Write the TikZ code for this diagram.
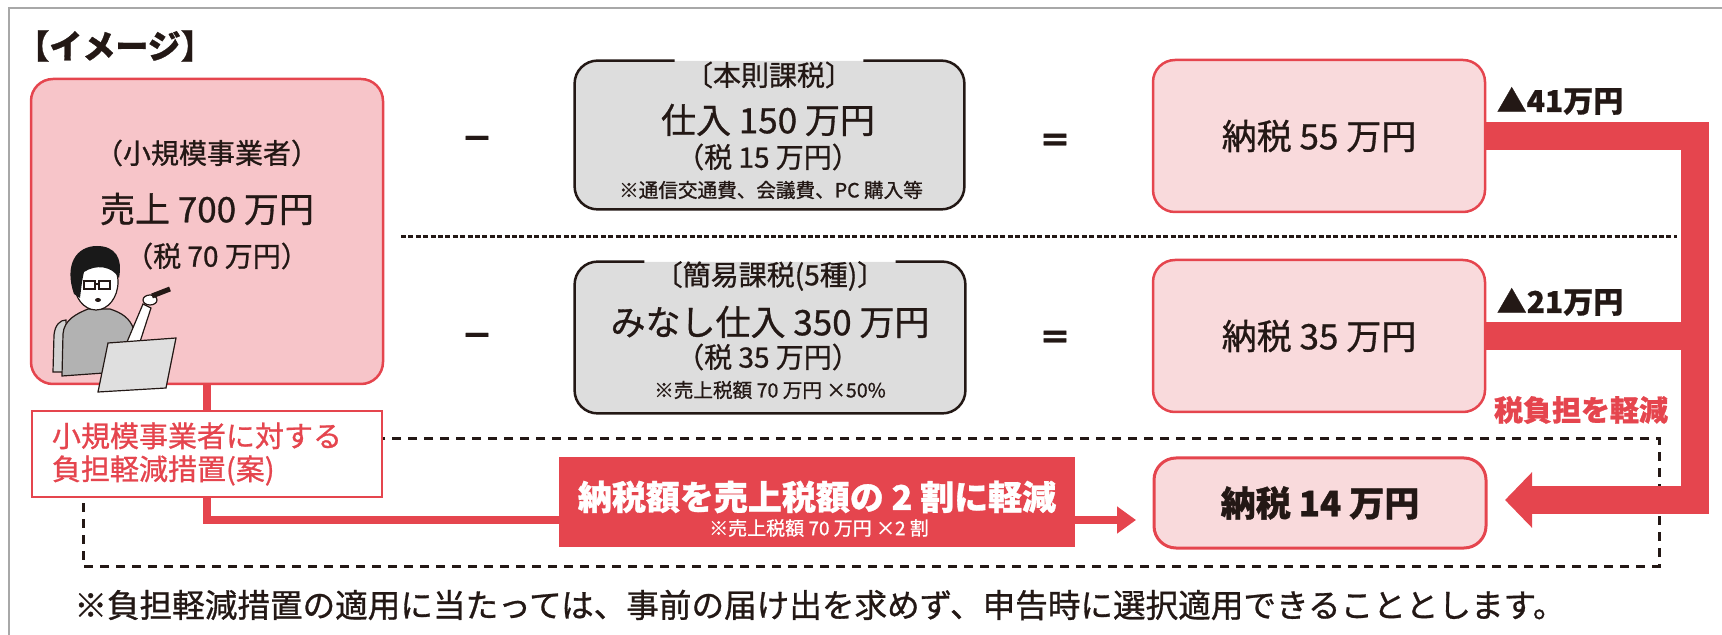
\documentclass[tikz,border=0pt]{standalone}
\usepackage{fontspec}
\setmainfont{Noto Sans CJK JP}[RawFeature={embolden=0.9}]
\usepackage{xcolor}
\usetikzlibrary{arrows.meta}

\definecolor{inkblack}{HTML}{231815}
\definecolor{boxred}{HTML}{E5454E}
\definecolor{pinkdeep}{HTML}{F7C5C9}
\definecolor{pinklight}{HTML}{F9DADC}
\definecolor{boxgray}{HTML}{DDDDDD}
\definecolor{framegray}{HTML}{A8A8A8}

\begin{document}
\begin{tikzpicture}[x=0.5pt, y=-0.5pt,
    bigtxt/.style={font=\fontsize{17.5}{21}\selectfont, text=inkblack},
    midtxt/.style={font=\fontsize{14}{17}\selectfont, text=inkblack},
    notetxt/.style={font=\fontsize{9.8}{12}\selectfont, text=inkblack},
    opsym/.style={font=\fontsize{16}{19}\selectfont\bfseries, text=inkblack},
    pinkbox/.style={draw=boxred, line width=1.25pt, rounded corners=11pt, bigtxt},
    graybox/.style={fill=boxgray, rounded corners=11.5pt},
    grayline/.style={draw=inkblack, line width=1.25pt, rounded corners=11.5pt},
    redline/.style={draw=boxred, line width=3.6pt},
    redbar/.style={draw=boxred, line width=14pt, line join=miter},
    dashline/.style={draw=inkblack, line width=1.5pt, dash pattern=on 4.5pt off 3.5pt},
    dotline/.style={draw=inkblack, line width=1.5pt, dash pattern=on 2.5pt off 1.2pt}]
  \useasboundingbox (0,0) rectangle (1722,635);

  % frame
  \draw[framegray, line width=1pt] (9,635) -- (9,8) -- (1722,8);
  \node[anchor=west, inner sep=0pt, font=\fontsize{16.5}{19}\selectfont\bfseries, text=inkblack] (title) at (16,46) {【イメージ】};

  % small business
  \node[pinkbox, fill=pinkdeep, minimum width=176pt, minimum height=152.5pt] (biz) at (207,231.5) {};

  % person at the laptop
  \begin{scope}[draw=inkblack, line width=0.6pt]
    \filldraw[fill=gray!35] (53,372) -- (54,335) .. controls (55,325) and (60,320) .. (66,320) -- (68,372) -- cycle;
    \filldraw[fill=gray!60] (62,376) -- (63,334) .. controls (64,320) and (76,314) .. (88,309) -- (110,309) .. controls (122,313) and (130,318) .. (134,330) -- (137,352) -- (118,372) -- cycle;
    \filldraw[fill=white] (127,342) -- (143,304) -- (151,308) -- (138,348) -- cycle;
    \filldraw[fill=white] (150,300) ellipse (3.5pt and 2.5pt);
    \draw[line width=2.5pt] (152,296) -- (170,289);
    \filldraw[fill=white] (96,282) ellipse (11pt and 14pt);
    \fill[gray!20!black] (74,294) .. controls (64,265) and (76,246) .. (97,246) .. controls (115,246) and (123,258) .. (119,278) .. controls (112,266) and (96,264) .. (84,272) .. controls (82,280) and (81,290) .. (80,298) -- cycle;
    \draw (84,281) rectangle (95,289) (99,281) rectangle (110,289) (95,284) -- (99,284);
    \fill[inkblack] (98,300) ellipse (1.5pt and 1pt);
    \filldraw[fill=gray!25] (108,343) -- (176,338) -- (166,388) -- (98,392) -- cycle;
  \end{scope}

  \node[midtxt] (bizname) at (207,153) {（小規模事業者）};
  \node[bigtxt] (sales) at (207,209) {売上 700 万円};
  \node[midtxt] (salestax) at (217,256) {（税 70 万円）};

  % relief measure
  \draw[dashline] (83,439) rectangle (1659,566);
  \node[draw=boxred, line width=1.25pt, fill=white, minimum width=175pt, minimum height=43pt,
        inner xsep=10pt, text width=155pt, align=left, text=boxred,
        font=\fontsize{14.5}{16.5}\selectfont] (relief) at (207,454) {小規模事業者に対する\\負担軽減措置(案)};
  \draw[redline] (biz.south) -- (relief.north);
  \coordinate (tip1) at (1136,520);
  \draw[redline, -{Triangle[length=9.5pt, width=13pt]}] (relief.south) |- (tip1);

  \node[fill=boxred, minimum width=258pt, minimum height=45pt] (cut) at (817,502) {};
  \node[font=\fontsize{17}{20}\selectfont\bfseries, text=white] (cuttxt) at (817,497) {納税額を売上税額の 2 割に軽減};
  \node[font=\fontsize{9.5}{11}\selectfont, text=white] (cutnote) at (819,528) {※売上税額 70 万円 ×2 割};

  % standard taxation
  \node[graybox, minimum width=194.5pt, minimum height=74pt] (rule) at (769.5,135) {};
  \node[midtxt, inner xsep=5pt] (ruleT) at (769,75) {〔本則課税〕};
  \draw[grayline] (ruleT.east |- rule.north) -- (rule.north east) -- (rule.south east) -- (rule.south west) -- (rule.north west) -- (ruleT.west |- rule.north);
  \node[bigtxt] (rulebuy) at (768,120) {仕入 150 万円};
  \node[midtxt] (ruletax) at (768,157) {（税 15 万円）};
  \node[notetxt] (rulenote) at (771,190) {※通信交通費、会議費、PC 購入等};

  % simplified taxation
  \node[graybox, minimum width=195pt, minimum height=75.5pt] (easy) at (770,337.5) {};
  \node[midtxt, inner xsep=5pt] (easyT) at (770,276) {〔簡易課税(5種)〕};
  \draw[grayline] (easyT.east |- easy.north) -- (easy.north east) -- (easy.south east) -- (easy.south west) -- (easy.north west) -- (easyT.west |- easy.north);
  \node[bigtxt] (easybuy) at (770,322) {みなし仕入 350 万円};
  \node[midtxt] (easytax) at (768,357) {（税 35 万円）};
  \node[notetxt] (easynote) at (770,390) {※売上税額 70 万円 ×50\%};

  \node[opsym] (minus1) at (477,143) {－};
  \node[opsym] (minus2) at (477,340) {－};
  \node[opsym] (eq1) at (1055,143) {＝};
  \node[opsym] (eq2) at (1055,340) {＝};

  \draw[dotline] (401,237) -- (1677,237);

  % tax to pay
  \node[pinkbox, fill=pinklight, minimum width=166pt, minimum height=76pt] (tax55) at (1319,136) {納税 55 万円};
  \node[pinkbox, fill=pinklight, minimum width=166pt, minimum height=76pt] (tax35) at (1319,336) {納税 35 万円};
  \node[pinkbox, fill=pinklight, line width=1.5pt, minimum width=166pt, minimum height=45pt, font=\fontsize{17.5}{21}\selectfont\bfseries] (tax14) at (1320,503) {納税 14 万円};

  \coordinate (turn) at (1695,500);
  \coordinate (tip2) at (1505,500);
  \draw[redbar, -{Triangle[length=13.5pt, width=27pt]}] (tax55.east) -| (turn) -- (tip2);
  \draw[redbar] (tax35.east) -- (tax35.east -| turn);

  \node[font=\fontsize{15}{18}\selectfont\bfseries, text=inkblack] (cut41) at (1560,101) {▲41万円};
  \node[font=\fontsize{15}{18}\selectfont\bfseries, text=inkblack] (cut21) at (1560,302) {▲21万円};
  \node[font=\fontsize{14.5}{17}\selectfont\bfseries, text=boxred] (lighter) at (1581,410) {税負担を軽減};

  \node[anchor=west, inner sep=0pt, font=\fontsize{16.3}{19}\selectfont, text=inkblack] (footnote) at (74,605) {※負担軽減措置の適用に当たっては、事前の届け出を求めず、申告時に選択適用できることとします。};
\end{tikzpicture}
\end{document}
